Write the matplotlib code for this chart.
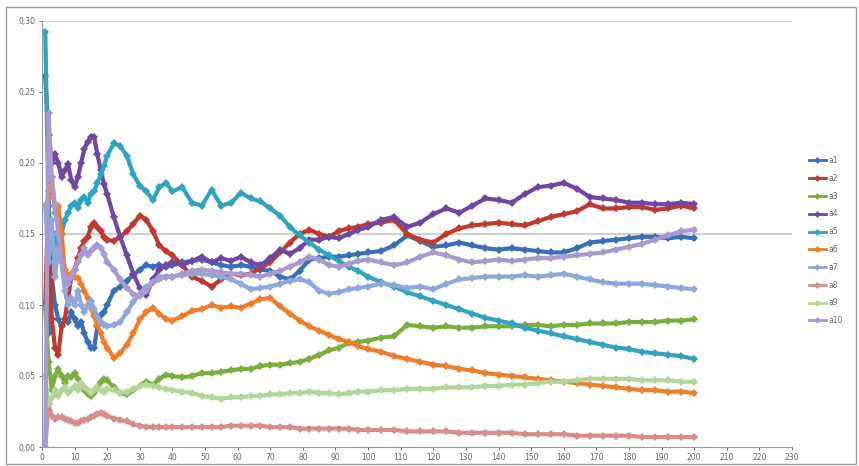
import matplotlib
matplotlib.use("Agg")
import matplotlib.pyplot as plt
from matplotlib.patches import Rectangle

x = [1, 2, 3, 4, 5, 6, 7, 8, 9, 10, 11, 12, 13, 14, 15, 16, 17, 18, 19, 20,
     22, 24, 26, 28, 30, 32, 34, 36, 38, 40,
     43, 46, 49, 52, 55, 58, 61, 64, 67, 70, 73, 76, 79, 82, 85, 88, 91, 94, 97, 100,
     104, 108, 112, 116, 120, 124, 128, 132, 136, 140, 144, 148, 152, 156, 160,
     164, 168, 172, 176, 180, 184, 188, 192, 196, 200]

a1 = [.10, .08, .12, .10, .09, .085, .09, .088, .095, .09, .085, .088, .08, .074, .07, .07, .085, .093, .095, .10,
      .11, .113, .117, .121, .125, .128, .127, .128, .127, .128,
      .13, .131, .132, .13, .128, .127, .128, .127, .125, .124, .12, .118, .124, .132, .133, .134, .134, .135, .136, .137,
      .138, .142, .149, .145, .141, .142, .144, .142, .14, .139, .14, .139, .138, .137, .137,
      .14, .144, .145, .146, .147, .148, .148, .147, .148, .147]
a2 = [.10, .18, .09, .07, .065, .085, .09, .105, .12, .125, .133, .14, .145, .148, .155, .158, .155, .152, .148, .146,
      .145, .148, .152, .157, .163, .16, .152, .142, .138, .135,
      .128, .12, .117, .113, .118, .122, .121, .122, .126, .13, .137, .144, .15, .153, .15, .148, .152, .154, .155, .157,
      .158, .16, .15, .146, .144, .15, .154, .156, .157, .158, .157, .156, .159, .162, .164,
      .166, .171, .168, .168, .169, .169, .167, .168, .170, .168]
a3 = [.098, .06, .04, .05, .055, .05, .045, .05, .049, .052, .048, .044, .04, .037, .036, .038, .042, .046, .048, .047,
      .042, .038, .037, .04, .043, .046, .044, .048, .051, .05,
      .049, .05, .052, .052, .053, .054, .055, .055, .057, .058, .058, .059, .06, .062, .065, .068, .07, .073, .074, .075,
      .077, .078, .086, .085, .084, .085, .084, .084, .085, .085, .085, .086, .086, .085, .086,
      .086, .087, .087, .087, .088, .088, .088, .089, .089, .090]
a4 = [.261, .22, .20, .206, .20, .19, .195, .199, .188, .183, .19, .20, .21, .215, .218, .218, .206, .195, .185, .178,
      .162, .148, .135, .122, .112, .107, .118, .125, .128, .13,
      .128, .131, .134, .13, .133, .131, .134, .13, .128, .133, .139, .136, .14, .146, .146, .148, .147, .15, .153, .155,
      .16, .162, .155, .158, .164, .168, .165, .17, .175, .174, .172, .178, .183, .184, .186,
      .182, .176, .175, .174, .172, .172, .171, .171, .172, .171]
a5 = [.292, .17, .14, .15, .135, .15, .16, .165, .17, .172, .168, .174, .176, .172, .178, .18, .186, .192, .198, .205,
      .214, .212, .205, .192, .184, .18, .174, .183, .186, .18,
      .183, .172, .17, .181, .17, .172, .179, .175, .173, .168, .163, .155, .149, .144, .139, .135, .131, .127, .124, .12,
      .116, .113, .109, .106, .103, .10, .097, .094, .091, .089, .087, .084, .082, .08, .078,
      .076, .074, .072, .07, .069, .067, .066, .065, .064, .062]
a6 = [.17, .175, .19, .165, .17, .15, .125, .12, .122, .12, .119, .115, .11, .105, .098, .092, .086, .08, .074, .07,
      .063, .066, .072, .08, .09, .095, .098, .094, .09, .089,
      .092, .096, .097, .10, .098, .099, .098, .101, .104, .105, .099, .094, .089, .085, .082, .079, .076, .074, .071, .069,
      .067, .064, .062, .06, .058, .057, .055, .054, .052, .051, .05, .049, .048, .047, .046,
      .045, .044, .043, .042, .041, .04, .04, .039, .039, .038]
a7 = [.17, .13, .16, .12, .14, .13, .11, .10, .105, .10, .11, .10, .095, .10, .103, .097, .092, .088, .086, .085,
      .086, .088, .095, .102, .108, .113, .116, .118, .12, .12,
      .121, .122, .122, .121, .12, .118, .115, .111, .112, .113, .115, .117, .118, .116, .11, .108, .109, .111, .112, .113,
      .115, .114, .112, .113, .111, .115, .118, .119, .12, .12, .12, .121, .12, .121, .122,
      .12, .118, .116, .115, .115, .115, .114, .113, .112, .111]
a8 = [.0, .03, .022, .02, .021, .021, .02, .019, .018, .017, .017, .018, .019, .02, .021, .022, .023, .024, .023, .022,
      .02, .019, .018, .016, .015, .014, .014, .014, .014, .014,
      .014, .014, .014, .014, .014, .015, .015, .015, .015, .014, .014, .014, .013, .013, .013, .013, .013, .013, .012, .012,
      .012, .012, .011, .011, .011, .011, .01, .01, .01, .01, .01, .009, .009, .009, .009,
      .008, .008, .008, .008, .008, .007, .007, .007, .007, .007]
a9 = [.05, .03, .035, .04, .036, .04, .042, .038, .04, .043, .04, .045, .042, .04, .038, .04, .042, .04, .039, .041,
      .04, .038, .039, .041, .043, .044, .043, .042, .041, .04,
      .039, .038, .036, .035, .034, .035, .035, .036, .036, .037, .037, .038, .038, .039, .038, .038, .037, .038, .039, .039,
      .04, .04, .041, .041, .041, .042, .042, .042, .043, .043, .044, .044, .045, .046, .046,
      .047, .048, .048, .048, .048, .047, .047, .047, .046, .046]
a10 = [.0, .235, .19, .17, .15, .13, .12, .115, .12, .125, .13, .135, .14, .135, .138, .14, .142, .14, .136, .13,
       .125, .118, .112, .108, .106, .11, .116, .12, .12, .12,
       .122, .124, .125, .124, .123, .122, .122, .121, .12, .122, .124, .127, .13, .134, .132, .128, .127, .129, .131, .132,
       .13, .128, .13, .134, .137, .135, .132, .13, .131, .132, .131, .132, .133, .133, .134,
       .135, .136, .137, .139, .141, .143, .146, .149, .152, .153]

series = [a1, a2, a3, a4, a5, a6, a7, a8, a9, a10]
labels = ["a1", "a2", "a3", "a4", "a5", "a6", "a7", "a8", "a9", "a10"]
colors = ["#3A6FB7", "#BE3A30", "#7BAE3E", "#7047A0", "#2FA3BF", "#EE7E2C",
          "#8EA8DC", "#D98C8C", "#B3D59B", "#A999D1"]

xticks = list(range(0, 231, 10))
yticks = [0.00, 0.05, 0.10, 0.15, 0.20, 0.25, 0.30]
ylabels = ["0,00", "0,05", "0,10", "0,15", "0,20", "0,25", "0,30"]

fig = plt.figure(figsize=(8.59, 4.66), dpi=100)
fig.patches.append(Rectangle((0.007, 0.004), 0.99, 0.981, transform=fig.transFigure,
                             fill=False, edgecolor="#9a9a9a", linewidth=1.0))
ax = fig.add_axes([42 / 859, 19 / 466, 750 / 859, 426 / 466])

for yv in (0.15, 0.30):
    ax.axhline(yv, color="#d0d0d0", linewidth=1.6, zorder=0)

for ys, lab, c in zip(series, labels, colors):
    ax.plot(x, ys, color=c, linewidth=3.0, marker="D", markersize=3.8,
            markeredgewidth=0, label=lab)

ax.set_xlim(0, 230)
ax.set_ylim(0, 0.30)
ax.set_xticks(xticks)
ax.set_xticklabels([str(t) for t in xticks])
ax.set_yticks(yticks)
ax.set_yticklabels(ylabels)
ax.tick_params(axis="both", labelsize=5.5, colors="#555555", length=2.5, width=0.6,
               labelcolor="#666666", pad=2)
for s in ("top", "right"):
    ax.spines[s].set_visible(False)
for s in ("left", "bottom"):
    ax.spines[s].set_color("#9a9a9a")
    ax.spines[s].set_linewidth(0.8)

leg = ax.legend(loc="upper left", bbox_to_anchor=(806 / 859, 313 / 466),
                bbox_transform=fig.transFigure, frameon=False, fontsize=5.5,
                handlelength=2.2, labelspacing=1.15, handletextpad=0.3,
                borderaxespad=0)
for line in leg.get_lines():
    line.set_linewidth(2.0)
    line.set_markersize(3.5)
for t in leg.get_texts():
    t.set_color("#666666")

fig.savefig("out.png", dpi=100)
